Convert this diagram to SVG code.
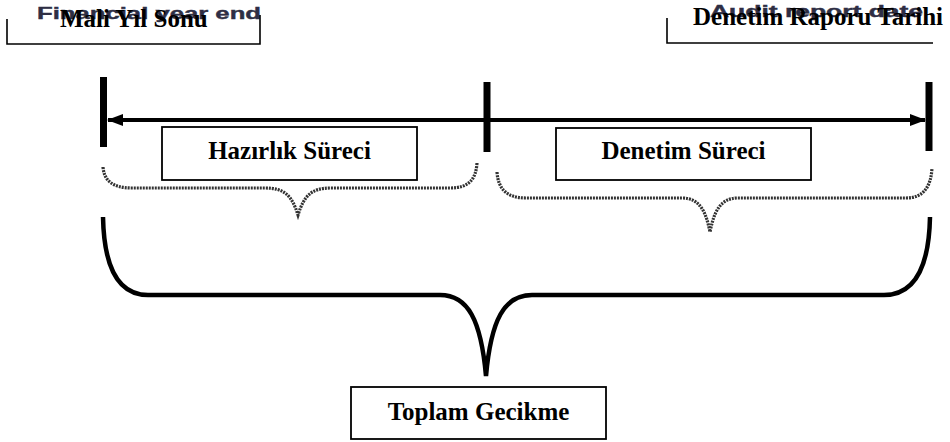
<svg xmlns="http://www.w3.org/2000/svg" width="950" height="442" viewBox="0 0 950 442">
  <style>
    .lbl { font-family: "Liberation Serif", "Times New Roman", serif; font-weight: bold; font-size: 25px; fill: #000; }
    .ghost { font-family: "Liberation Sans", Arial, sans-serif; font-weight: bold; font-size: 17px; fill: #2e2e44; stroke: #2e2e44; stroke-width: 0.4; }
    .box { fill: #fff; stroke: #000; stroke-width: 1.8; }
    .bracket { fill: none; stroke: #000; stroke-width: 1.6; }
    .tick { stroke: #000; stroke-width: 7; }
    .dotted { fill: none; stroke: #333; stroke-width: 3.2; stroke-dasharray: 2 1; }
    .brace { fill: none; stroke: #000; stroke-width: 4.5; }
  </style>
  <defs>
    <marker id="ah" viewBox="0 0 16 12" refX="15" refY="6" markerWidth="16" markerHeight="12" markerUnits="userSpaceOnUse" orient="auto-start-reverse">
      <path d="M0,0 L16,6 L0,12 Z" fill="#000"/>
    </marker>
  </defs>
  <rect width="950" height="442" fill="#fff"/>

  <g id="fiscal-year-end">
    <text class="ghost" x="37" y="19" textLength="224" lengthAdjust="spacingAndGlyphs">Financial year end</text>
    <path class="bracket" d="M7,19 V44 H260 V15"/>
    <text class="lbl" x="60" y="27">Mali Yıl Sonu</text>
  </g>

  <g id="audit-report-date">
    <text class="ghost" x="710" y="17" textLength="213" lengthAdjust="spacingAndGlyphs">Audit report date</text>
    <path class="bracket" d="M667,18 V43 H933"/>
    <text class="lbl" x="693" y="25">Denetim Raporu Tarihi</text>
  </g>

  <g id="ticks">
    <line class="tick" x1="103.5" y1="77" x2="103.5" y2="147"/>
    <line class="tick" x1="487" y1="82" x2="487" y2="152"/>
    <line class="tick" x1="929" y1="82" x2="929" y2="151"/>
  </g>

  <g id="connectors">
    <line x1="108" y1="120" x2="925" y2="120" stroke="#000" stroke-width="4" marker-start="url(#ah)" marker-end="url(#ah)"/>
    <path class="dotted" d="M103,167 C104,180 112,188 132,188 H265 C285,188 292,196 298,215 C304,196 311,188 331,188 H450 C470,188 476,178 477,163"/>
    <path class="dotted" d="M497,172 C498,188 506,198 526,198 H682 C700,198 706,212 710,232 C714,212 720,198 738,198 H906 C924,198 931,186 932,168"/>
    <path class="brace" d="M103,217 C104,268 118,295 148,295 H440 C468,295 481,320 486,376 C491,320 504,295 532,295 H884 C914,295 929,268 930,217"/>
  </g>

  <g id="hazirlik-sureci">
    <rect class="box" x="162" y="127" width="255" height="53"/>
    <text class="lbl" x="289.5" y="159" text-anchor="middle">Hazırlık Süreci</text>
  </g>

  <g id="denetim-sureci">
    <rect class="box" x="556" y="128" width="255" height="52"/>
    <text class="lbl" x="683.5" y="159" text-anchor="middle">Denetim Süreci</text>
  </g>

  <g id="toplam-gecikme">
    <rect class="box" x="351" y="387" width="255" height="52"/>
    <text class="lbl" x="478.5" y="420" text-anchor="middle">Toplam Gecikme</text>
  </g>
</svg>
